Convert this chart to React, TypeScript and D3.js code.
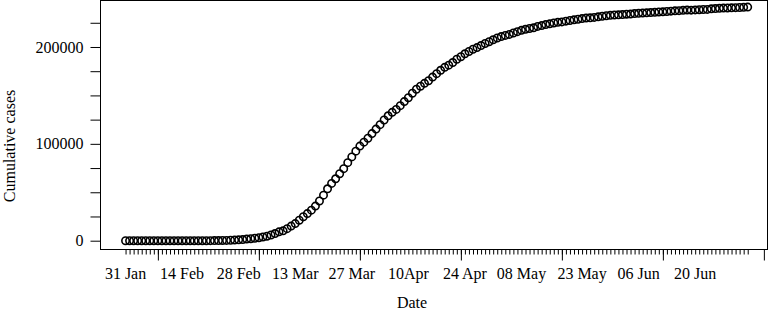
import React, { useEffect, useRef } from "react";
import * as d3 from "d3";

// cumulative confirmed cases, one value per day starting 31 Jan
const startDate = new Date(2020, 0, 31);
const casesJanFeb = [
  2, 2, 2, 2, 2, 2, 3, 3, 3, 3, 3, 3, 3, 3, 3, 3, 3, 3, 3, 3, 3, 20, 79, 150, 229, 322, 453, 655, 888, 1128,
];
const casesMar = [
  1694, 2036, 2502, 3089, 3858, 4636, 5883, 7375, 9172, 10149, 12462, 15113, 17660, 21157, 24747, 27980,
  31506, 35713, 41035, 47021, 53578, 59138, 63927, 69176, 74386, 80539, 86498, 92472, 97689, 101739, 105792,
];
const casesApr = [
  110574, 115242, 119827, 124632, 128948, 132547, 135586, 139422, 143626, 147577, 152271, 156363, 159516,
  162488, 165155, 168941, 172434, 175925, 178972, 181228, 183957, 187327, 189973, 192994, 195351, 197675,
  199414, 201505, 203591, 205463,
];
const casesMay = [
  207428, 209328, 210717, 211938, 213013, 214457, 215858, 217185, 218268, 219070, 219814, 221216, 222104,
  223096, 223885, 224760, 225435, 225886, 226699, 227364, 228006, 228658, 229327, 229858, 230158, 230555,
  231139, 231732, 232248, 232664, 233019,
];
const casesJunJul = [
  233197, 233515, 233836, 234013, 234531, 234801, 234998, 235278, 235561, 235763, 236142, 236305, 236651,
  236989, 237290, 237500, 237828, 238159, 238011, 238275, 238499, 238720, 238833, 239410, 239706, 239961,
  240136, 240310, 240436, 240578, 240760, 240961, 241184,
];

const xLabels = ["31 Jan", "14 Feb", "28 Feb", "13 Mar", "27 Mar", "10Apr", "24 Apr", "08 May", "23 May", "06 Jun", "20 Jun"];
const xLabelDays = [0, 14, 28, 42, 56, 70, 84, 98, 113, 127, 141];
const xMajorDays = [8, 33, 58, 83, 108, 133, 158];
const yTicks = [0, 25000, 50000, 75000, 100000, 125000, 150000, 175000, 200000, 225000];
const yLabelled = [0, 100000, 200000];

function App() {
  const ref = useRef<SVGSVGElement>(null);

  useEffect(() => {
    const width = 771;
    const height = 312;
    const margin = { top: 0.5, right: 3.5, bottom: 62.5, left: 100.5 };
    const font = "'Liberation Serif', 'Times New Roman', serif";
    const ink = "#000";

    const cases = [...casesJanFeb, ...casesMar, ...casesApr, ...casesMay, ...casesJunJul];
    const data = cases.map((v, i) => ({ day: i, date: d3.timeDay.offset(startDate, i), value: v }));

    const svg = d3.select(ref.current);
    svg.selectAll("*").remove();

    const x = d3.scaleLinear().domain([-6.2, 158.9]).range([margin.left, width - margin.right]);
    const y = d3.scaleLinear().domain([-9090, 248000]).range([height - margin.bottom, margin.top]);
    const bottom = height - margin.bottom;

    // y axis ticks
    svg.append("g")
      .attr("transform", `translate(${margin.left},0)`)
      .call(
        d3.axisLeft(y)
          .tickValues(yTicks)
          .tickSize(10)
          .tickPadding(7)
          .tickFormat((d) => (yLabelled.includes(+d) ? String(d) : ""))
      )
      .call((g) => g.select(".domain").remove())
      .call((g) => g.selectAll("line").attr("stroke", ink))
      .call((g) => g.selectAll("text").attr("font-family", font).attr("font-size", 16).attr("fill", ink));

    // x axis: daily minor ticks + longer major ticks
    svg.append("g")
      .attr("transform", `translate(0,${bottom})`)
      .call(d3.axisBottom(x).tickValues(data.map((d) => d.day)).tickSize(5).tickFormat(() => ""))
      .call((g) => g.select(".domain").remove())
      .call((g) => g.selectAll("line").attr("stroke", ink));

    svg.append("g")
      .attr("transform", `translate(0,${bottom})`)
      .call(d3.axisBottom(x).tickValues(xMajorDays).tickSize(11).tickFormat(() => ""))
      .call((g) => g.select(".domain").remove())
      .call((g) => g.selectAll("line").attr("stroke", ink));

    svg.append("g")
      .selectAll("text")
      .data(xLabels)
      .enter()
      .append("text")
      .attr("x", (_, i) => x(xLabelDays[i]))
      .attr("y", bottom + 29)
      .attr("text-anchor", "middle")
      .attr("font-family", font)
      .attr("font-size", 16)
      .attr("fill", ink)
      .text((d) => d);

    // frame
    svg.append("rect")
      .attr("x", margin.left)
      .attr("y", margin.top)
      .attr("width", width - margin.right - margin.left)
      .attr("height", bottom - margin.top)
      .attr("fill", "none")
      .attr("stroke", ink)
      .attr("stroke-width", 1);

    // points
    svg.append("g")
      .selectAll("circle")
      .data(data)
      .enter()
      .append("circle")
      .attr("cx", (d) => x(d.day))
      .attr("cy", (d) => y(d.value))
      .attr("r", 3.7)
      .attr("fill", "none")
      .attr("stroke", ink)
      .attr("stroke-width", 1.6);

    svg.append("text")
      .attr("x", (margin.left + width - margin.right) / 2 - 22)
      .attr("y", 308)
      .attr("text-anchor", "middle")
      .attr("font-family", font)
      .attr("font-size", 16)
      .attr("fill", ink)
      .text("Date");

    svg.append("text")
      .attr("transform", `translate(15,${(margin.top + bottom) / 2 + 21}) rotate(-90)`)
      .attr("text-anchor", "middle")
      .attr("font-family", font)
      .attr("font-size", 16)
      .attr("fill", ink)
      .text("Cumulative cases");
  }, []);

  return (
    <svg
      ref={ref}
      width={771}
      height={312}
      style={{ position: "absolute", left: 0, top: 0, background: "white", display: "block" }}
    ></svg>
  );
}

export default App;
